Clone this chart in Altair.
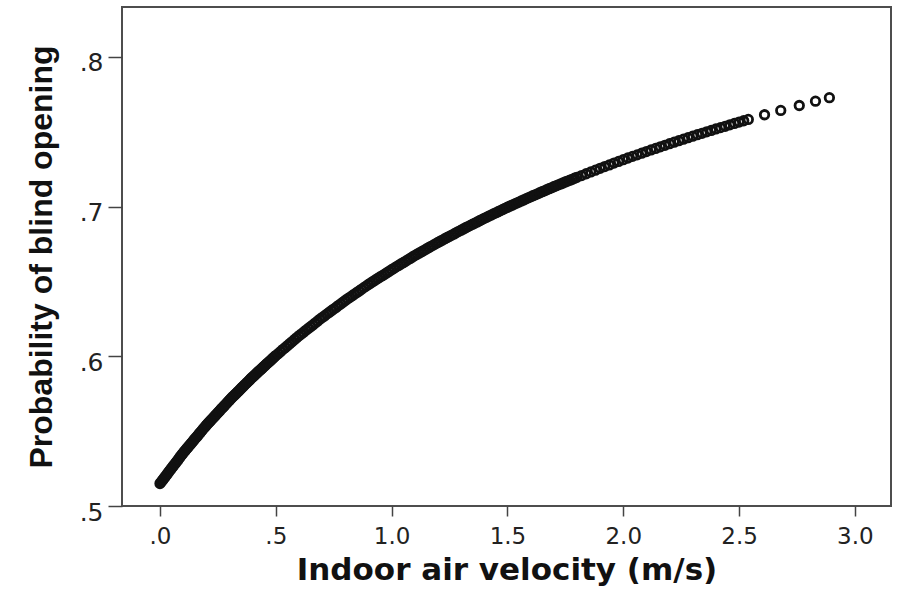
import altair as alt
import pandas as pd

# ---- data ----
vel_a = [
    0.000, 0.005, 0.010, 0.015, 0.020, 0.025, 0.030, 0.035, 0.040, 0.045,
    0.050, 0.055, 0.060, 0.065, 0.070, 0.075, 0.080, 0.085, 0.090, 0.095,
    0.100, 0.105, 0.110, 0.115, 0.120, 0.125, 0.130, 0.135, 0.140, 0.145,
    0.150, 0.155, 0.160, 0.165, 0.170, 0.175, 0.180, 0.185, 0.190, 0.195,
    0.200, 0.205, 0.210, 0.215, 0.220, 0.225, 0.230, 0.235, 0.240, 0.245,
    0.250, 0.255, 0.260, 0.265, 0.270, 0.275, 0.280, 0.285, 0.290, 0.295,
    0.300, 0.305, 0.310, 0.315, 0.320, 0.325, 0.330, 0.335, 0.340, 0.345,
    0.350, 0.355, 0.360, 0.365, 0.370, 0.375, 0.380, 0.385, 0.390, 0.395,
    0.400, 0.405, 0.410, 0.415, 0.420, 0.425, 0.430, 0.435, 0.440, 0.445,
    0.450, 0.455, 0.460, 0.465, 0.470, 0.475, 0.480, 0.485, 0.490, 0.495,
    0.500,
]
prob_a = [
    .5150, .5160, .5170, .5181, .5191, .5201, .5211, .5222, .5232, .5242,
    .5252, .5262, .5272, .5283, .5293, .5303, .5313, .5324, .5334, .5344,
    .5354, .5364, .5373, .5382, .5391, .5401, .5410, .5419, .5428, .5438,
    .5447, .5456, .5465, .5475, .5484, .5493, .5502, .5512, .5521, .5530,
    .5539, .5548, .5556, .5565, .5573, .5581, .5589, .5598, .5606, .5615,
    .5623, .5632, .5640, .5649, .5657, .5665, .5673, .5682, .5690, .5699,
    .5707, .5715, .5723, .5731, .5738, .5746, .5754, .5762, .5769, .5777,
    .5785, .5793, .5800, .5808, .5816, .5824, .5831, .5839, .5847, .5855,
    .5862, .5869, .5876, .5884, .5891, .5898, .5905, .5912, .5919, .5927,
    .5934, .5941, .5948, .5955, .5962, .5969, .5976, .5984, .5991, .5998,
    .6005,
]

vel_b = [
    0.51, 0.52, 0.53, 0.54, 0.55, 0.56, 0.57, 0.58, 0.59, 0.60,
    0.61, 0.62, 0.63, 0.64, 0.65, 0.66, 0.67, 0.68, 0.69, 0.70,
    0.71, 0.72, 0.73, 0.74, 0.75, 0.76, 0.77, 0.78, 0.79, 0.80,
    0.81, 0.82, 0.83, 0.84, 0.85, 0.86, 0.87, 0.88, 0.89, 0.90,
    0.91, 0.92, 0.93, 0.94, 0.95, 0.96, 0.97, 0.98, 0.99, 1.00,
    1.01, 1.02, 1.03, 1.04, 1.05, 1.06, 1.07, 1.08, 1.09, 1.10,
    1.11, 1.12, 1.13, 1.14, 1.15, 1.16, 1.17, 1.18, 1.19, 1.20,
    1.21, 1.22, 1.23, 1.24, 1.25, 1.26, 1.27, 1.28, 1.29, 1.30,
    1.31, 1.32, 1.33, 1.34, 1.35, 1.36, 1.37, 1.38, 1.39, 1.40,
    1.41, 1.42, 1.43, 1.44, 1.45, 1.46, 1.47, 1.48, 1.49, 1.50,
    1.51, 1.52, 1.53, 1.54, 1.55, 1.56, 1.57, 1.58, 1.59, 1.60,
    1.61, 1.62, 1.63, 1.64, 1.65, 1.66, 1.67, 1.68, 1.69, 1.70,
    1.71, 1.72, 1.73, 1.74, 1.75, 1.76, 1.77, 1.78, 1.79, 1.80,
]
prob_b = [
    .6018, .6031, .6045, .6058, .6071, .6084, .6097, .6111, .6124, .6137,
    .6149, .6161, .6174, .6186, .6198, .6210, .6222, .6235, .6247, .6259,
    .6270, .6282, .6293, .6305, .6316, .6327, .6339, .6350, .6362, .6373,
    .6384, .6394, .6405, .6416, .6427, .6437, .6448, .6459, .6469, .6480,
    .6490, .6500, .6510, .6520, .6530, .6539, .6549, .6559, .6569, .6579,
    .6588, .6598, .6607, .6617, .6626, .6635, .6645, .6654, .6664, .6673,
    .6682, .6691, .6699, .6708, .6717, .6726, .6735, .6743, .6752, .6761,
    .6769, .6777, .6786, .6794, .6802, .6810, .6818, .6827, .6835, .6843,
    .6851, .6859, .6867, .6875, .6883, .6890, .6898, .6906, .6914, .6922,
    .6929, .6937, .6944, .6952, .6959, .6966, .6974, .6981, .6989, .6996,
    .7003, .7010, .7017, .7024, .7031, .7038, .7045, .7052, .7059, .7066,
    .7073, .7079, .7086, .7093, .7100, .7106, .7113, .7120, .7126, .7133,
    .7139, .7146, .7152, .7158, .7165, .7171, .7177, .7183, .7190, .7196,
]

vel_c = [
    1.82, 1.84, 1.86, 1.88, 1.90, 1.92, 1.94, 1.96, 1.98, 2.00,
    2.02, 2.04, 2.06, 2.08, 2.10, 2.12, 2.14, 2.16, 2.18, 2.20,
    2.22, 2.24, 2.26, 2.28, 2.30, 2.32, 2.34, 2.36, 2.38, 2.40,
    2.42, 2.44, 2.46, 2.48, 2.50, 2.52, 2.54,
]
prob_c = [
    .7208, .7220, .7232, .7244, .7256, .7268, .7279, .7291, .7302, .7314,
    .7325, .7336, .7346, .7357, .7368, .7379, .7389, .7400, .7410, .7421,
    .7431, .7441, .7451, .7461, .7471, .7481, .7490, .7500, .7509, .7519,
    .7528, .7537, .7547, .7556, .7565, .7574, .7583,
]

vel_tail = [2.61, 2.68, 2.76, 2.83, 2.89]
prob_tail = [.7614, .7643, .7676, .7705, .7728]

x_ticks = [0.0, 0.5, 1.0, 1.5, 2.0, 2.5, 3.0]
x_tick_labels = [".0", ".5", "1.0", "1.5", "2.0", "2.5", "3.0"]
y_ticks = [0.5, 0.6, 0.7, 0.8]
y_tick_labels = [".5", ".6", ".7", ".8"]

x_title = "Indoor air velocity (m/s)"
y_title = "Probability of blind opening"

df = pd.DataFrame({
    "velocity": vel_a + vel_b + vel_c + vel_tail,
    "probability": prob_a + prob_b + prob_c + prob_tail,
})


def label_expr(values, labels):
    expr = "''"
    for v, lab in reversed(list(zip(values, labels))):
        expr = f"abs(datum.value - {v}) < 1e-6 ? '{lab}' : ({expr})"
    return expr


chart = alt.Chart(df).mark_point(
    shape="circle", filled=False, size=72, strokeWidth=2.8,
    color="#111111", opacity=1
).encode(
    x=alt.X(
        "velocity:Q",
        scale=alt.Scale(domain=[-0.164, 3.156], nice=False, zero=False),
        axis=alt.Axis(
            values=x_ticks, labelExpr=label_expr(x_ticks, x_tick_labels),
            title=x_title, domain=False, grid=False,
            tickSize=10, tickWidth=1.5, tickColor="#444444",
            labelFont="DejaVu Sans", labelFontSize=23, labelColor="#222222",
            labelPadding=9, labelFlush=False, labelOverlap=False,
            titleFont="DejaVu Sans", titleFontSize=31, titleFontWeight="bold",
            titleColor="#111111", titleBaseline="alphabetic", titleY=73,
        ),
    ),
    y=alt.Y(
        "probability:Q",
        scale=alt.Scale(domain=[0.5, 0.8334], nice=False, zero=False),
        axis=alt.Axis(
            values=y_ticks, labelExpr=label_expr(y_ticks, y_tick_labels),
            title=y_title, domain=False, grid=False,
            tickSize=14, tickWidth=1.5, tickColor="#444444",
            labelFont="DejaVu Sans", labelFontSize=25, labelColor="#222222",
            labelPadding=5, labelBaseline="alphabetic", labelOffset=14,
            labelFlush=False, labelOverlap=False,
            titleFont="Liberation Sans", titleFontSize=32, titleFontWeight="bold",
            titleColor="#111111", titleAngle=270, titleBaseline="alphabetic",
            titleX=-71,
        ),
    ),
).properties(
    width=769, height=499,
    background="white",
    autosize=alt.AutoSizeParams(type="none"),
    padding={"left": 122, "top": 7, "right": 6, "bottom": 85},
).configure_view(
    stroke="#4d4d4d", strokeWidth=2, fill="white"
)

chart.save("out.html", embed_options={"renderer": "svg", "actions": False})
